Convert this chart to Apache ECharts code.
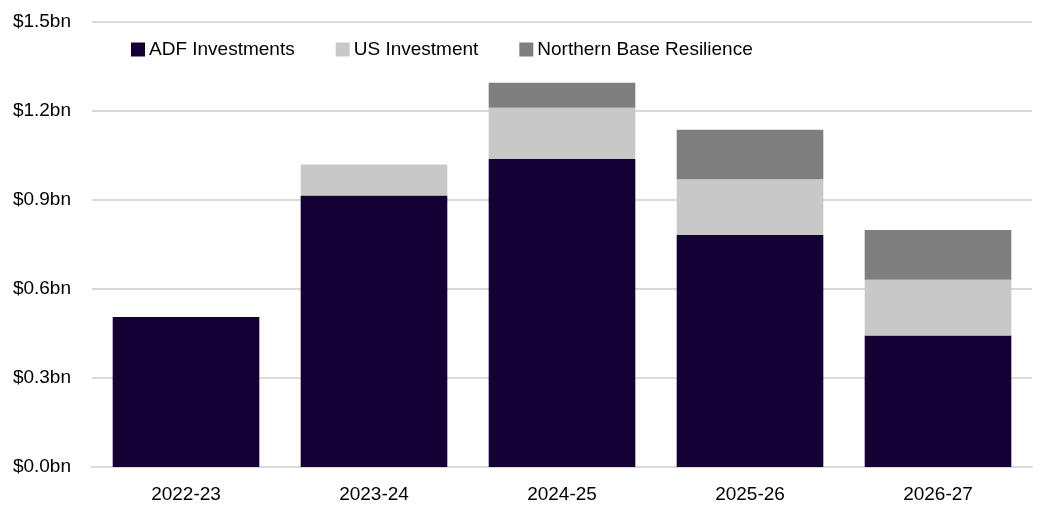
<!DOCTYPE html>
<html>
<head>
<meta charset="utf-8">
<script src="https://cdn.jsdelivr.net/npm/echarts@6/dist/echarts.min.js"></script>
<style>
  html, body { margin: 0; padding: 0; background: #fff; }
  #chart { width: 1043px; height: 507px; }
</style>
</head>
<body>
<div id="chart"></div>
<script>
var years = ['2022-23', '2023-24', '2024-25', '2025-26', '2026-27'];
var adfInvestments = [0.506, 0.915, 1.039, 0.783, 0.443];
var usInvestment = [0, 0.105, 0.172, 0.187, 0.188];
var northernBase = [0, 0, 0.084, 0.167, 0.168];
var yTicks = [0, 0.3, 0.6, 0.9, 1.2, 1.5];

var font = 'Liberation Sans';

var chart = echarts.init(document.getElementById('chart'));

var option = {
    backgroundColor: '#fff',
    animation: false,
    color: ['#150033', '#c8c8c8', '#7f7f7f'],
    legend: {
        left: 126,
        top: 35,
        itemWidth: 14,
        itemHeight: 14,
        itemGap: 41,
        icon: 'rect',
        textStyle: { fontFamily: font, fontSize: 19, color: '#000', padding: [0, 0, 0, -1] },
        data: ['ADF Investments', 'US Investment', 'Northern Base Resilience']
    },
    grid: { left: 92, right: 11, top: 22, bottom: 40 },
    xAxis: {
        type: 'category',
        data: years,
        axisTick: { show: false },
        axisLine: { lineStyle: { color: '#d9d9d9', width: 2 } },
        axisLabel: { fontFamily: font, fontSize: 19, color: '#000', margin: 18 }
    },
    yAxis: {
        type: 'value',
        min: yTicks[0],
        max: yTicks[yTicks.length - 1],
        interval: 0.3,
        axisLabel: {
            fontFamily: font, fontSize: 19, color: '#000', margin: 21,
            formatter: function (v) { return '$' + v.toFixed(1) + 'bn'; }
        },
        splitLine: { lineStyle: { color: '#d9d9d9', width: 2 } }
    },
    series: [
        {
            name: 'ADF Investments',
            type: 'bar',
            stack: 'total',
            barCategoryGap: '22%',
            data: adfInvestments
        },
        {
            name: 'US Investment',
            type: 'bar',
            stack: 'total',
            data: usInvestment
        },
        {
            name: 'Northern Base Resilience',
            type: 'bar',
            stack: 'total',
            data: northernBase
        }
    ]
};

chart.setOption(option);
</script>
</body>
</html>
